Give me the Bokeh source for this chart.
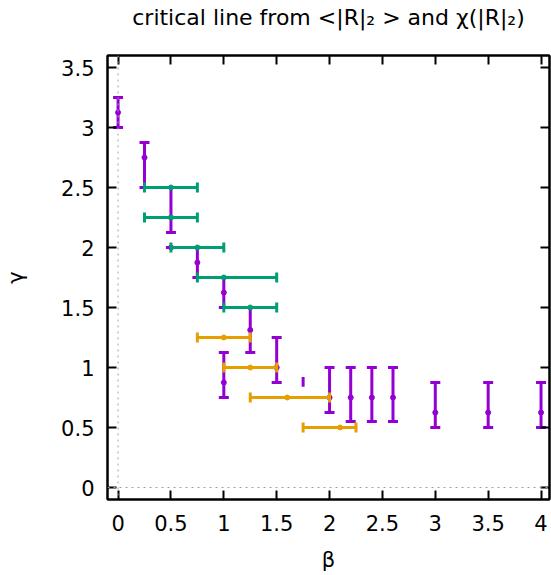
import numpy as np
from bokeh.plotting import figure
from bokeh.models import (Range1d, FixedTicker, NumeralTickFormatter, LinearAxis, Span,
                          CustomLabelingPolicy)
from bokeh.embed import file_html
from bokeh.resources import INLINE

# ---- data ----
# purple: critical points from <|R|_2> (vertical error bars in gamma)
p_beta = [0.0, 0.25, 0.5, 0.5, 0.75, 1.0, 1.25, 1.5, 1.0, 2.0, 2.2, 2.4, 2.6, 3.0, 3.5, 4.0]
p_gamma = [3.125, 2.75, 2.25, 2.0, 1.875, 1.625, 1.3125, 1.0, 0.875, 0.75, 0.75, 0.75, 0.75, 0.625, 0.625, 0.625]
p_low = [3.0, 2.5, 2.125, 2.0, 1.75, 1.5, 1.125, 0.875, 0.75, 0.625, 0.55, 0.55, 0.55, 0.5, 0.5, 0.5]
p_high = [3.25, 2.875, 2.5, 2.0, 2.0, 1.75, 1.5, 1.25, 1.125, 1.0, 1.0, 1.0, 1.0, 0.875, 0.875, 0.875]
# purple short bar without caps
pe_beta = [1.75]
pe_low = [0.84]
pe_high = [0.92]

# green: horizontal error bars in beta
g_gamma = [2.5, 2.25, 2.0, 1.75, 1.5]
g_beta = [0.5, 0.5, 0.75, 1.0, 1.25]
g_low = [0.25, 0.25, 0.5, 0.75, 1.0]
g_high = [0.75, 0.75, 1.0, 1.5, 1.5]

# orange: horizontal error bars in beta
o_gamma = [1.25, 1.0, 0.75, 0.5]
o_beta = [1.0, 1.25, 1.6, 2.1]
o_low = [0.75, 1.0, 1.25, 1.75]
o_high = [1.25, 1.5, 2.0, 2.25]

x_ticks = [0, 0.5, 1, 1.5, 2, 2.5, 3, 3.5, 4]
y_ticks = [0, 0.5, 1, 1.5, 2, 2.5, 3, 3.5]

TITLE = "critical line from <|R|\u2082 > and \u03c7(|R|\u2082)"
XLABEL = "\u03b2"
YLABEL = "\u03b3"

PURPLE = "#9400D3"
GREEN = "#009E73"
ORANGE = "#E69F00"
FONT = "DejaVu Sans"
FS = "21px"

p = figure(width=551, height=575, output_backend="svg", toolbar_location=None,
           x_range=Range1d(-0.1, 4.08), y_range=Range1d(-0.1, 3.6),
           min_border_left=107, min_border_right=2, min_border_top=55, min_border_bottom=76,
           background_fill_color="white", border_fill_color="white")

p.title.text = TITLE
p.title.align = "center"
p.title.vertical_align = "bottom"
p.title.text_font = FONT
p.title.text_font_size = "22px"
p.title.text_font_style = "normal"
p.title.text_color = "black"
p.title.standoff = 0

p.grid.visible = False
p.outline_line_color = "black"
p.outline_line_width = 2

fmt = NumeralTickFormatter(format="0.[0]")
hide_all = CustomLabelingPolicy(code="for (const i of Array.from(indices)) { indices.unset(i) } return indices")

def style_axis(ax, ticks, show_labels):
    ax.ticker = FixedTicker(ticks=ticks)
    ax.formatter = fmt
    ax.major_tick_in = 9
    ax.major_tick_out = 0
    ax.minor_tick_line_color = None
    ax.major_tick_line_width = 2
    ax.major_tick_line_color = "black"
    ax.axis_line_color = "black"
    ax.axis_line_width = 2
    ax.major_label_text_font = FONT
    ax.axis_label_text_font = FONT
    ax.axis_label_text_font_style = "normal"
    ax.axis_label_text_font_size = FS
    ax.major_label_text_color = "black"
    ax.axis_label_text_color = "black"
    if show_labels:
        ax.major_label_text_font_size = FS
    else:
        ax.major_label_policy = hide_all
        ax.major_label_text_font_size = "0px"
        ax.major_label_standoff = 0
        ax.axis_label_standoff = 0

style_axis(p.xaxis[0], x_ticks, True)
style_axis(p.yaxis[0], y_ticks, True)
p.xaxis[0].axis_label = XLABEL
p.yaxis[0].axis_label = YLABEL
p.xaxis[0].major_label_standoff = 15
p.xaxis[0].axis_label_standoff = 14
p.yaxis[0].major_label_standoff = 13
p.yaxis[0].axis_label_standoff = 30

# mirror ticks on top and right
top = LinearAxis()
style_axis(top, x_ticks, False)
p.add_layout(top, "above")
right = LinearAxis()
style_axis(right, y_ticks, False)
p.add_layout(right, "right")

# invisible spacer between the frame and the title
spacer = LinearAxis()
style_axis(spacer, x_ticks, False)
spacer.major_tick_in = 0
spacer.major_tick_out = 26
spacer.major_tick_line_color = None
spacer.axis_line_color = None
p.add_layout(spacer, "above")

# zero axes (dotted)
p.add_layout(Span(location=0, dimension="height", line_color="#a0a0a0", line_width=1, line_dash="2 4"))
p.add_layout(Span(location=0, dimension="width", line_color="#a0a0a0", line_width=1, line_dash="2 4"))

LW = 3
CAP = 10
DOT = 5

def vbars(x, y, lo, hi, color):
    p.segment(x0=x, y0=lo, x1=x, y1=hi, line_color=color, line_width=LW)
    p.scatter(x, lo, marker="dash", size=CAP, line_color=color, line_width=LW)
    p.scatter(x, hi, marker="dash", size=CAP, line_color=color, line_width=LW)
    p.scatter(x, y, marker="circle", size=DOT, line_color=color, fill_color=color)

def hbars(x, y, lo, hi, color):
    p.segment(x0=lo, y0=y, x1=hi, y1=y, line_color=color, line_width=LW)
    p.scatter(lo, y, marker="dash", size=CAP, angle=np.pi / 2, line_color=color, line_width=LW)
    p.scatter(hi, y, marker="dash", size=CAP, angle=np.pi / 2, line_color=color, line_width=LW)
    p.scatter(x, y, marker="circle", size=DOT, line_color=color, fill_color=color)

vbars(p_beta, p_gamma, p_low, p_high, PURPLE)
p.segment(x0=pe_beta, y0=pe_low, x1=pe_beta, y1=pe_high, line_color=PURPLE, line_width=LW)
hbars(g_beta, g_gamma, g_low, g_high, GREEN)
hbars(o_beta, o_gamma, o_low, o_high, ORANGE)

open("out.html", "w").write(file_html(p, INLINE))
